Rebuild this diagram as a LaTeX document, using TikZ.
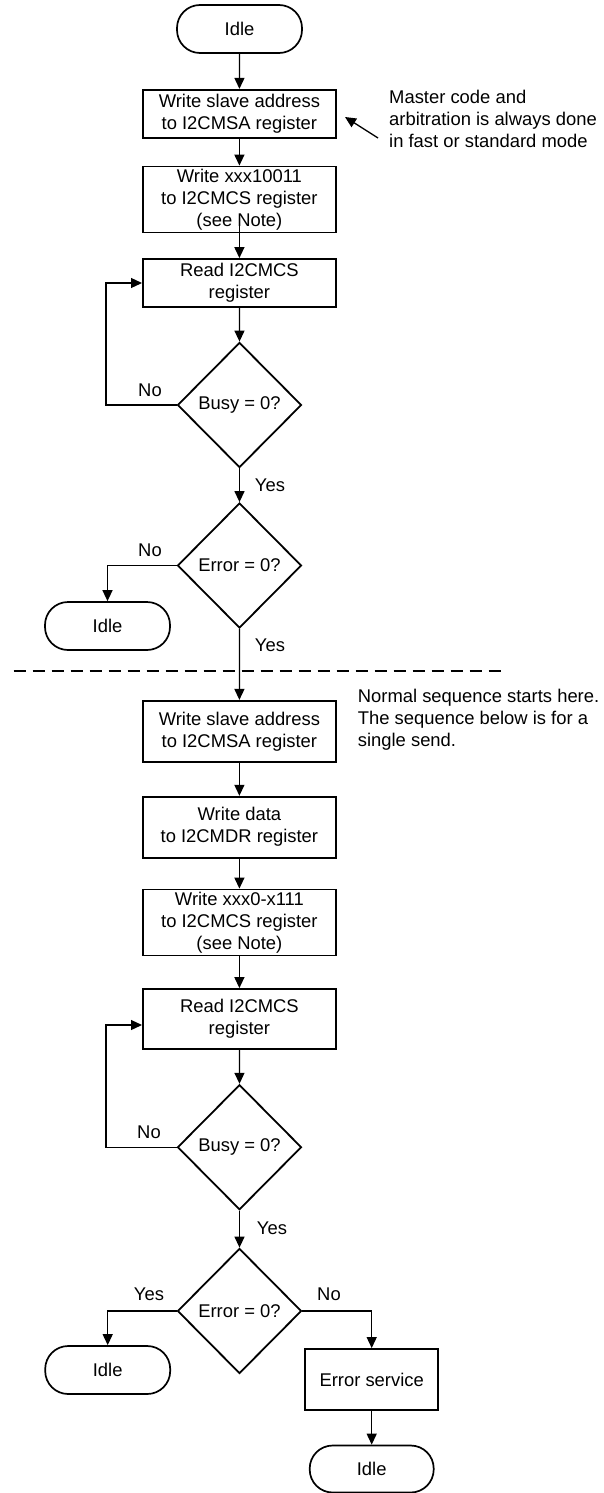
\documentclass[tikz,border=0pt]{standalone}
\usepackage{fontspec}
\setmainfont{Liberation Sans}
\usetikzlibrary{shapes.geometric,arrows.meta,calc}
\begin{document}
\begin{tikzpicture}[x=1pt,y=-1pt,
  font=\fontsize{18.4}{22}\selectfont,
  box/.style={draw,line width=1.8pt,minimum width=193pt,inner sep=0pt,align=center},
  term/.style={draw,line width=1.7pt,rounded corners=23pt,minimum width=125pt,minimum height=48pt,inner sep=0pt},
  dec/.style={draw,diamond,line width=1.8pt,minimum width=124pt,minimum height=125pt,inner sep=0pt},
  arr/.style={line width=1.3pt,-{Triangle[length=11pt,width=10pt]}},
  lbl/.style={inner sep=0pt},
  note/.style={align=left,anchor=west,inner sep=0pt}]
\useasboundingbox (0,0) rectangle (603,1493);

% upper section
\node[term] (idle1) at (239.5,29) {Idle};
\node[box,minimum height=48pt] (b1) at (239.4,113.8) {Write slave address\\to I2CMSA register};
\node[box,minimum height=66pt] (b2) at (239.4,199.5) {Write xxx10011\\to I2CMCS register\\(see Note)};
\node[box,minimum height=48pt] (b3) at (239.4,283) {Read I2CMCS\\register};
\node[dec] (d1) at (239.5,405) {Busy = 0?};
\node[dec] (d2) at (239.5,565.5) {Error = 0?};
\node[term] (idleL1) at (107.5,626) {Idle};

\node[lbl] (no1) at (150,390.7) {No};
\node[lbl] (yes1) at (270,485) {Yes};
\node[lbl] (no2) at (150,550.7) {No};
\node[lbl] (yes2) at (270,645) {Yes};

\node[note] (n1) at (389,118.5) {Master code and\\arbitration is always done\\in fast or standard mode};
\coordinate (atail) at (378,138);
\coordinate (atip) at (345,117);
\draw[arr] (atail) -- (atip);

\draw[arr] (idle1) -- (b1);
\draw[arr] (b1) -- (b2);
\draw[arr] ([yshift=19pt]b2.south) -- (b3.north);
\draw[arr] (b3.south) -- (d1.north);
\draw[arr] (d1.west) -| ([xshift=-36pt]b3.west) -- (b3.west);
\draw[arr] (d1.south) -- (d2.north);
\draw[arr] (d2.west) -| (idleL1.north);

% separator
\coordinate (sepL) at (13.5,671);
\coordinate (sepR) at (504,671);
\draw[line width=1.2pt,dash pattern=on 12pt off 7pt] (sepL) -- (sepR);

% lower section
\node[box,minimum height=61pt] (b4) at (239.4,731.3) {Write slave address\\to I2CMSA register};
\node[box,minimum height=61pt] (b5) at (239.4,827.2) {Write data\\to I2CMDR register};
\node[box,minimum height=66pt] (b6) at (239.4,922.5) {Write xxx0-x111\\to I2CMCS register\\(see Note)};
\node[box,minimum height=60pt] (b7) at (239.4,1019) {Read I2CMCS\\register};
\node[dec] (d3) at (239.5,1147.2) {Busy = 0?};
\node[dec] (d4) at (239.5,1311) {Error = 0?};
\node[term] (idleL2) at (107.7,1370) {Idle};
\node[box,minimum width=133pt,minimum height=61pt] (es) at (371.7,1379.5) {Error service};
\node[term,minimum width=124pt,minimum height=47pt] (idle3) at (371.7,1469) {Idle};

\node[note] (n2) at (357.7,720) {Normal sequence starts here.\\The sequence below is for a\\single send.};

\node[lbl] (no3) at (149,1132.7) {No};
\node[lbl] (yes3) at (272,1228.3) {Yes};
\node[lbl] (yes4) at (149,1294.3) {Yes};
\node[lbl] (no4) at (329,1294.3) {No};

\draw[arr] (d2.south) -- (b4.north);
\draw[arr] (b4) -- (b5);
\draw[arr] (b5) -- (b6);
\draw[arr] (b6) -- (b7);
\draw[arr] (b7.south) -- (d3.north);
\draw[arr] (d3.west) -| ([shift={(-36pt,-6pt)}]b7.west) -- ([yshift=-6pt]b7.west);
\draw[arr] (d3.south) -- (d4.north);
\draw[arr] (d4.west) -| (idleL2.north);
\draw[arr] (d4.east) -| (es.north);
\draw[arr] (es) -- (idle3);
\end{tikzpicture}
\end{document}
